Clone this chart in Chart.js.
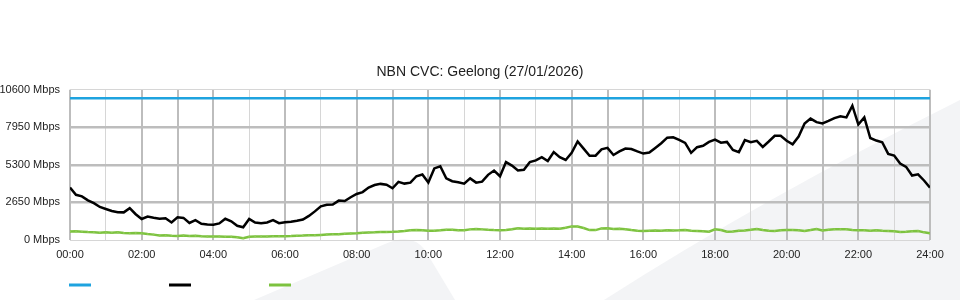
<!DOCTYPE html>
<html>
<head>
<meta charset="utf-8">
<script src="https://cdn.jsdelivr.net/npm/chart.js@4.4.1/dist/chart.umd.min.js"></script>
<style>
  html, body { margin: 0; padding: 0; background: #fff; }
  canvas { display: block; }
</style>
</head>
<body>
<canvas id="cvcChart" width="960" height="300"></canvas>
<script>
const TITLE = 'NBN CVC: Geelong (27/01/2026)';

// x axis: minutes since midnight, one sample every 10 minutes
const SAMPLE_MIN = 10;
const hourTicks = ['00:00', '02:00', '04:00', '06:00', '08:00', '10:00', '12:00',
  '14:00', '16:00', '18:00', '20:00', '22:00', '24:00'];
const yTicks = [0, 2650, 5300, 7950, 10600];

const capacityMbps = 10000;

// black line, Mbps per 10 minute sample (00:00 .. 24:00)
const trafficMbps = [
  3700, 3190, 3080, 2800, 2600, 2330, 2190, 2050, 1960, 1950, 2250, 1820,
  1480, 1650, 1570, 1500, 1530, 1240, 1600, 1560, 1200, 1400, 1150, 1090,
  1080, 1170, 1500, 1320, 1000, 900, 1480, 1230, 1180, 1240, 1400, 1190,
  1250, 1290, 1360, 1450, 1700, 2020, 2380, 2490, 2500, 2780, 2750, 3020,
  3250, 3380, 3700, 3880, 3960, 3900, 3650, 4100, 3980, 4050, 4500, 4620,
  4060, 5050, 5200, 4350, 4150, 4080, 3980, 4350, 4050, 4120, 4600, 4900,
  4500, 5500, 5250, 4900, 4950, 5500, 5620, 5850, 5580, 6200, 5850, 5650,
  6150, 6950, 6450, 5950, 5950, 6400, 6500, 6000, 6250, 6450, 6420, 6250,
  6100, 6170, 6500, 6830, 7220, 7250, 7060, 6850, 6150, 6550, 6650, 6920,
  7080, 6870, 6920, 6350, 6200, 7050, 6900, 7000, 6570, 6950, 7350, 7350,
  7000, 6750, 7300, 8220, 8570, 8320, 8230, 8400, 8600, 8730, 8650, 9480,
  8150, 8650, 7200, 7020, 6900, 6080, 5960, 5400, 5160, 4550, 4630, 4200,
  3700
];

// green line, Mbps per 10 minute sample
const lowMbps = [
  600, 610, 590, 560, 540, 520, 540, 520, 550, 500, 480, 500,
  470, 420, 380, 310, 330, 300, 290, 320, 280, 300, 270, 250,
  240, 240, 230, 230, 200, 120, 230, 240, 250, 250, 260, 260,
  270, 280, 300, 310, 340, 340, 360, 380, 400, 410, 440, 460,
  480, 520, 530, 540, 560, 570, 580, 600, 640, 690, 710, 680,
  650, 660, 690, 730, 720, 680, 690, 750, 780, 750, 720, 700,
  690, 700, 760, 830, 800, 810, 800, 820, 790, 810, 800, 860,
  960, 950, 850, 700, 700, 820, 830, 780, 790, 760, 700, 650,
  640, 660, 670, 660, 680, 670, 680, 700, 660, 640, 610, 580,
  750, 700, 580, 600, 650, 670, 720, 780, 700, 650, 640, 680,
  710, 700, 690, 640, 700, 780, 670, 720, 760, 750, 760, 700,
  690, 680, 660, 680, 650, 640, 620, 570, 580, 610, 630, 540,
  480
];

const BLUE = '#1ea3df';
const BLACK = '#000000';
const GREEN = '#7cc23f';
const TEXT = '#222222';
const FONT = '"Liberation Sans", Arial, sans-serif';

const toPoints = arr => arr.map((v, i) => ({ x: i * SAMPLE_MIN, y: v }));
const lastMin = (trafficMbps.length - 1) * SAMPLE_MIN;

// faint background shapes behind the plot
const backdrop = {
  id: 'backdrop',
  beforeDraw(chart) {
    const c = chart.ctx;
    c.save();
    c.fillStyle = '#ffffff';
    c.fillRect(0, 0, chart.width, chart.height);
    c.fillStyle = '#f3f4f6';
    c.beginPath();
    c.moveTo(604, 300);
    c.quadraticCurveTo(760, 200, 960, 100);
    c.lineTo(960, 300);
    c.closePath();
    c.fill();
    c.beginPath();
    c.moveTo(254, 300);
    c.lineTo(385, 244);
    c.quadraticCurveTo(412, 232, 425, 250);
    c.lineTo(455, 300);
    c.closePath();
    c.fill();
    c.restore();
  }
};

// legend: short coloured strokes only, no text
const strokeLegend = {
  id: 'strokeLegend',
  afterDraw(chart) {
    const c = chart.ctx;
    const x0 = chart.chartArea.left - 1;
    c.save();
    c.lineWidth = 3;
    chart.data.datasets.forEach((ds, i) => {
      c.strokeStyle = ds.borderColor;
      c.beginPath();
      c.moveTo(x0 + i * 100, 285);
      c.lineTo(x0 + i * 100 + 22, 285);
      c.stroke();
    });
    c.restore();
  }
};

new Chart(document.getElementById('cvcChart'), {
  type: 'line',
  data: {
    datasets: [
      {
        label: 'Capacity',
        data: [{ x: 0, y: capacityMbps }, { x: lastMin, y: capacityMbps }],
        borderColor: BLUE,
        borderWidth: 2.5,
        pointRadius: 0
      },
      {
        label: 'Traffic',
        data: toPoints(trafficMbps),
        borderColor: BLACK,
        borderWidth: 2.5,
        pointRadius: 0,
        tension: 0
      },
      {
        label: 'Low',
        data: toPoints(lowMbps),
        borderColor: GREEN,
        backgroundColor: '#8fcc55',
        borderWidth: 2.5,
        pointRadius: 1,
        pointBorderWidth: 0,
        tension: 0
      }
    ]
  },
  options: {
    responsive: false,
    animation: false,
    layout: { padding: 0 },
    plugins: {
      legend: { display: false },
      tooltip: { enabled: false },
      title: {
        display: true,
        text: TITLE,
        color: TEXT,
        font: { family: FONT, size: 14, weight: 'normal' },
        padding: { top: 64, bottom: 9 }
      }
    },
    scales: {
      x: {
        type: 'linear',
        min: 0,
        max: lastMin,
        border: { display: false },
        afterFit: s => { s.height = 60; },
        afterBuildTicks: s => {
          s.ticks = [];
          for (let m = 0; m <= lastMin; m += 60) s.ticks.push({ value: m });
        },
        ticks: {
          autoSkip: false,
          maxRotation: 0,
          padding: 8,
          color: TEXT,
          font: { family: FONT, size: 11 },
          callback: v => (v % 120 === 0 ? hourTicks[v / 120] : '')
        },
        grid: {
          drawTicks: false,
          color: ctx => {
            const h = ctx.tick.value / 60;
            return (h % 2 === 0 || h % 3 === 0) ? '#bdbdbd' : '#d6d6d6';
          },
          lineWidth: ctx => {
            const h = ctx.tick.value / 60;
            return (h % 2 === 0 || h % 3 === 0) ? 2 : 1;
          }
        }
      },
      y: {
        min: yTicks[0],
        max: yTicks[yTicks.length - 1],
        border: { display: false },
        afterFit: s => { s.width = 70; },
        afterBuildTicks: s => { s.ticks = yTicks.map(v => ({ value: v })); },
        ticks: {
          padding: 10,
          color: TEXT,
          font: { family: FONT, size: 11 },
          callback: v => v + ' Mbps'
        },
        grid: {
          drawTicks: false,
          color: ctx => (ctx.index === 0 || ctx.index === yTicks.length - 1) ? '#d6d6d6' : '#bdbdbd',
          lineWidth: ctx => (ctx.index === 0 || ctx.index === yTicks.length - 1) ? 1 : 2.5
        }
      },
      // empty right-hand gutter so the title stays centred on the page
      gutter: {
        type: 'linear',
        position: 'right',
        display: true,
        border: { display: false },
        grid: { display: false },
        ticks: { display: false },
        afterFit: s => { s.width = 30; }
      }
    }
  },
  plugins: [backdrop, strokeLegend]
});
</script>
</body>
</html>
